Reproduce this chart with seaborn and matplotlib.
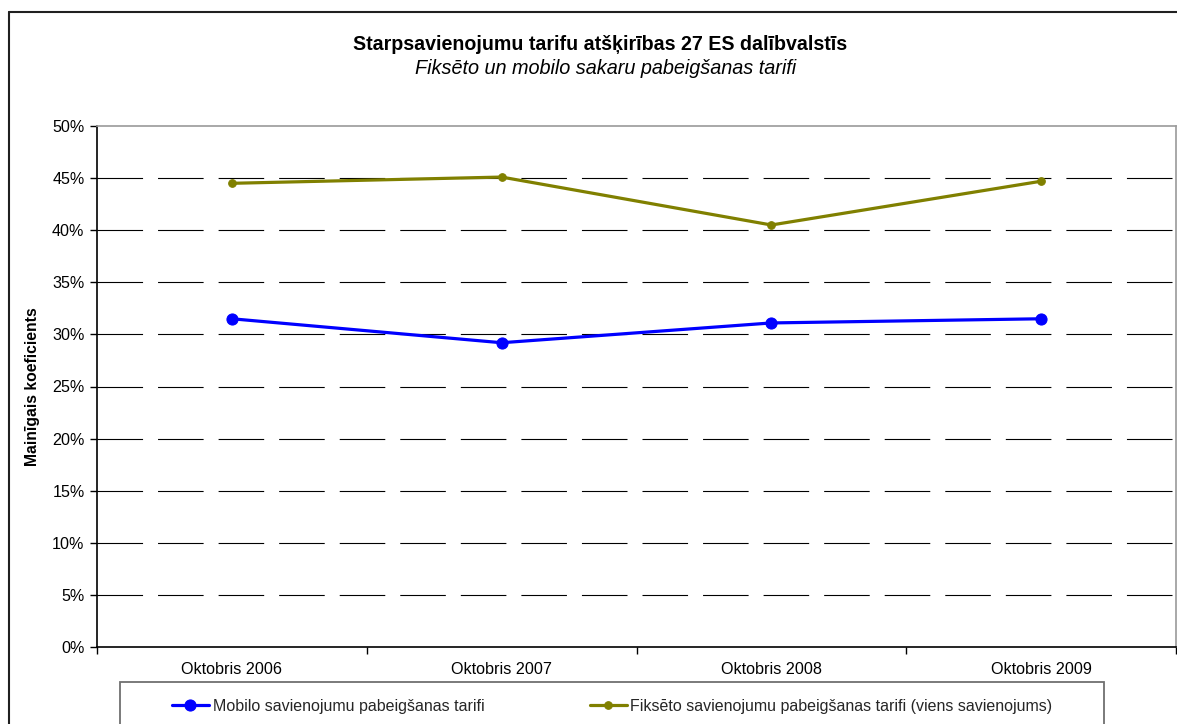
import matplotlib
matplotlib.use("Agg")
import matplotlib.pyplot as plt
import seaborn as sns
import pandas as pd
from matplotlib.lines import Line2D
from matplotlib.patches import Rectangle
from matplotlib.ticker import FixedLocator, FuncFormatter

# ---- data ----
periods = ["Oktobris 2006", "Oktobris 2007", "Oktobris 2008", "Oktobris 2009"]
mobile = [31.5, 29.2, 31.1, 31.5]
fixed = [44.5, 45.1, 40.5, 44.7]
mobile_label = "Mobilo savienojumu pabeigšanas tarifi"
fixed_label = "Fiksēto savienojumu pabeigšanas tarifi (viens savienojums)"
y_ticks = [0, 5, 10, 15, 20, 25, 30, 35, 40, 45, 50]
title = "Starpsavienojumu tarifu atšķirības 27 ES dalībvalstīs"
subtitle = "Fiksēto un mobilo sakaru pabeigšanas tarifi"
ylabel = "Mainīgais koeficients"

df_mob = pd.DataFrame({"period": periods, "value": mobile})
df_fix = pd.DataFrame({"period": periods, "value": fixed})

sns.set_theme(style="white")
plt.rcParams["font.family"] = ["Liberation Sans", "DejaVu Sans"]

W, H = 1177, 724
fig = plt.figure(figsize=(W / 100, H / 100), dpi=100)
fig.patch.set_facecolor("white")

# outer chart border
fig.add_artist(Line2D([8.5 / W, 8.5 / W], [0, 1 - 12 / H], color="#202020", lw=1.5, transform=fig.transFigure))
fig.add_artist(Line2D([8.5 / W, 1], [1 - 12 / H, 1 - 12 / H], color="#202020", lw=1.5, transform=fig.transFigure))

L, R, T, B = 97, 1176, 126, 647
ax = fig.add_axes([L / W, 1 - B / H, (R - L) / W, (B - T) / H])
ax.set_facecolor("white")

blue = "#0000FF"
olive = "#808000"
sns.lineplot(data=df_mob, x="period", y="value", ax=ax, color=blue, lw=2.3,
             marker="o", markersize=8, markeredgecolor=blue, label=mobile_label, sort=False, zorder=5)
sns.lineplot(data=df_fix, x="period", y="value", ax=ax, color=olive, lw=2.3,
             marker="o", markersize=5.5, markeredgecolor=olive, label=fixed_label, sort=False, zorder=5)

ax.set_xlim(-0.5, len(periods) - 0.5)
ax.set_ylim(0, 50)
ax.yaxis.set_major_locator(FixedLocator(y_ticks))
ax.yaxis.set_major_formatter(FuncFormatter(lambda v, p: f"{v:.0f}%"))

# dashed gridlines (inner ticks only)
for v in y_ticks[1:-1]:
    ax.axhline(v, color="black", lw=0.8, linestyle=(0, (41, 13.5)), zorder=1)

ax.set_xticks(range(len(periods)))
ax.set_xticklabels(periods)
ax.set_xticks([i - 0.5 for i in range(len(periods) + 1)], minor=True)
ax.tick_params(axis="x", which="major", length=0, pad=11, labelsize=11.6, colors="black")
ax.tick_params(axis="x", which="minor", length=5, width=1, direction="out", color="black", bottom=True)
ax.tick_params(axis="y", which="major", length=5, width=1, direction="out", color="black",
               labelsize=11.6, labelcolor="black", pad=4, left=True)

ax.set_xlabel("")
ax.set_ylabel(ylabel, fontsize=11.3, fontweight="bold", color="black", labelpad=9)

for s in ["left", "bottom"]:
    ax.spines[s].set_color("black")
    ax.spines[s].set_linewidth(1.2)
for s in ["top", "right"]:
    ax.spines[s].set_color("#9a9a9a")
    ax.spines[s].set_linewidth(1.2)

handles, labels = ax.get_legend_handles_labels()
ax.get_legend().remove()

# titles
fig.text(600 / W, 1 - 44 / H, title, ha="center", va="center", fontsize=14.1, fontweight="bold", color="black")
fig.text(606 / W, 1 - 68 / H, subtitle, ha="center", va="center", fontsize=14.3, style="italic", color="black")

# legend box
fig.add_artist(Rectangle((120 / W, -0.05), (1104 - 120) / W, (1 - 682 / H) + 0.05, transform=fig.transFigure,
                         facecolor="white", edgecolor="#707070", lw=1.3))
leg = fig.legend(handles, labels, loc="center left", bbox_to_anchor=(172 / W, 1 - 706 / H),
                 ncol=2, frameon=False, fontsize=11.5, handlelength=2.3, handletextpad=0.25,
                 columnspacing=6.6, borderaxespad=0, borderpad=0)

fig.savefig("out.png", dpi=100, facecolor="white")
